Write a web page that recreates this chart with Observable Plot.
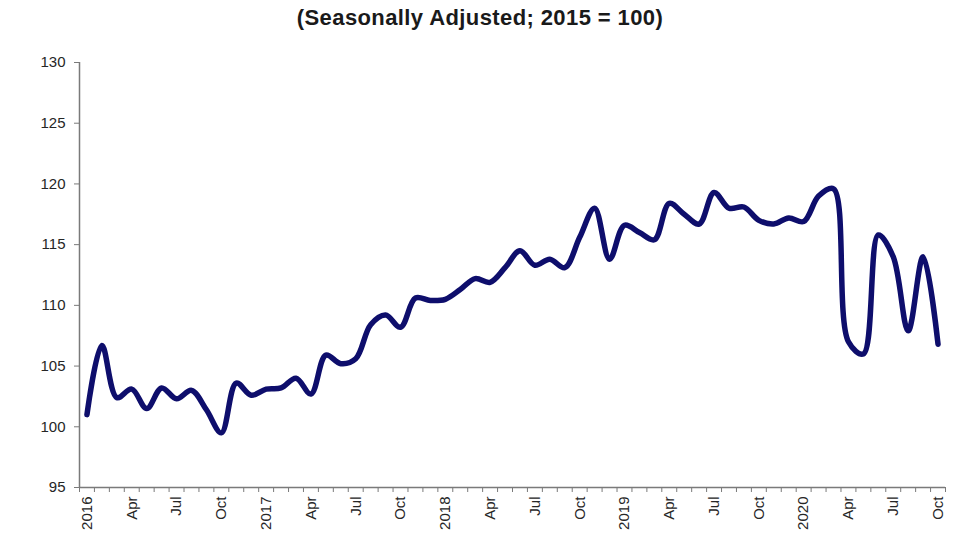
<!DOCTYPE html>
<html><head><meta charset="utf-8">
<script src="https://cdn.jsdelivr.net/npm/d3@7"></script>
<script src="https://cdn.jsdelivr.net/npm/@observablehq/plot@0.6"></script>
<style>
body{margin:0;background:#fff;font-family:"Liberation Sans",Arial,sans-serif;}
#title{height:36px;line-height:36px;text-align:center;font-weight:bold;font-size:22px;letter-spacing:0.4px;color:#1a1a1a;padding-right:20px;}
#chart svg{display:block;}
</style></head><body>
<div id="title">(Seasonally Adjusted; 2015 = 100)</div>
<div id="chart"></div>
<script>
// Monthly index, Jan 2016 – Oct 2020
const values = [
  101.0, 106.7, 102.4, 103.1, 101.5, 103.2, 102.3, 103.0, 101.4, 99.5, 103.6, 102.6,
  103.1, 103.2, 104.0, 102.7, 105.9, 105.2, 105.6, 108.4, 109.2, 108.2, 110.6, 110.4,
  110.5, 111.3, 112.2, 111.9, 113.1, 114.5, 113.3, 113.8, 113.1, 115.6, 118.0, 113.8,
  116.6, 116.0, 115.4, 118.4, 117.5, 116.7, 119.3, 118.0, 118.1, 117.0, 116.7, 117.2,
  116.9, 119.0, 119.6, 107.0, 106.0, 115.8, 114.0, 107.9, 114.0, 106.8
];
const yTicks = [95, 100, 105, 110, 115, 120, 125, 130];
const xTickLabels = [
  "2016", "Apr", "Jul", "Oct",
  "2017", "Apr", "Jul", "Oct",
  "2018", "Apr", "Jul", "Oct",
  "2019", "Apr", "Jul", "Oct",
  "2020", "Apr", "Jul", "Oct"
];

const data = values.map((v, i) => ({i, v}));
const n = values.length;
const boundaries = d3.range(-0.5, n, 1);
const labelPos = xTickLabels.map((_, k) => k * 3);
const axisColor = "#7a7a7a";
const textColor = "#262626";

const plot = Plot.plot({
  width: 980,
  height: 516,
  marginTop: 26,
  marginBottom: 65,
  marginLeft: 79,
  marginRight: 35,
  style: {fontFamily: "'Liberation Sans', Arial, sans-serif", background: "#fff"},
  x: {domain: [-0.5, n - 0.5], axis: null, label: null},
  y: {domain: [95, 130], axis: null, label: null},
  marks: [
    Plot.axisY({ticks: yTicks, anchor: "left", label: null, tickSize: 5, tickPadding: 9, stroke: axisColor, fill: textColor, fontSize: 15}),
    Plot.axisX({ticks: boundaries, anchor: "bottom", label: null, tickSize: 5, tickFormat: () => "", stroke: axisColor}),
    Plot.axisX({ticks: labelPos, anchor: "bottom", label: null, tickSize: 0, tickPadding: 9, tickRotate: -90,
      tickFormat: d => xTickLabels[Math.round(d / 3)], fill: textColor, fontSize: 15}),
    Plot.ruleX([-0.5], {y1: 95, y2: 130, stroke: axisColor, strokeWidth: 1.5}),
    Plot.ruleY([95], {x1: -0.5, x2: n - 0.5, stroke: axisColor, strokeWidth: 1.5}),
    Plot.line(data, {x: "i", y: "v", curve: "catmull-rom", stroke: "#0e0e6c", strokeWidth: 5.5,
      strokeLinejoin: "round", strokeLinecap: "round"})
  ]
});
document.getElementById("chart").appendChild(plot);
</script>
</body></html>
